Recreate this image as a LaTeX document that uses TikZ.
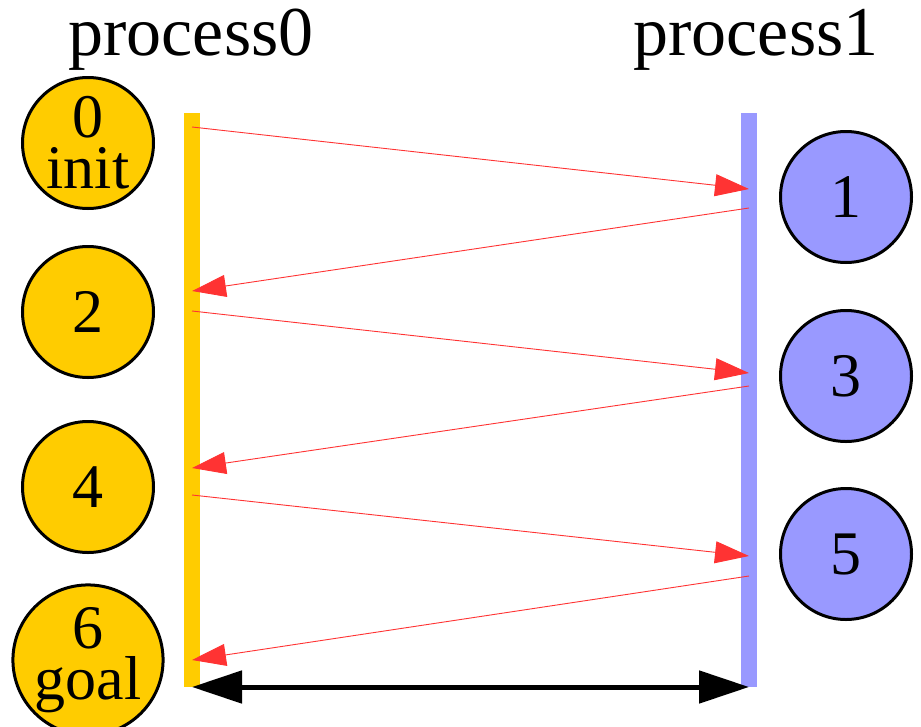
\documentclass[tikz,border=0pt]{standalone}
\usepackage{fontspec}
\setmainfont{Liberation Serif}
\usetikzlibrary{arrows.meta}

\definecolor{procgold}{HTML}{FFCC00}
\definecolor{procblue}{HTML}{9999FF}
\definecolor{msgred}{HTML}{FF3333}

\tikzset{
  state/.style={circle, draw=black, line width=3pt, minimum size=131pt, inner sep=0pt,
                align=center, font=\fontsize{62}{51}\selectfont},
  title/.style={font=\fontsize{70}{76}\selectfont},
  msg/.style={draw=msgred, line width=0.9pt, -{Triangle[length=34pt,width=22pt,fill=msgred]}},
}

\begin{document}
\begin{tikzpicture}[x=1pt,y=-1pt]
            \useasboundingbox (0,0) rectangle (921,726);

            \coordinate (P0top) at (192,113);
            \coordinate (P0bot) at (192,687);
            \coordinate (P1top) at (749,113);
            \coordinate (P1bot) at (749,687);

            \node[title] (t0) at (191,40) {process0};
            \node[title] (t1) at (756,40) {process1};

            \draw[procgold, line width=16pt] (P0top) -- (P0bot);
            \draw[procblue, line width=16pt] (P1top) -- (P1bot);

            \node[state, fill=procgold] (s0) at (88,143) {0\\init};
            \node[state, fill=procgold] (s2) at (88,312) {2};
            \node[state, fill=procgold] (s4) at (88,487) {4};
            \node[state, fill=procgold] (s6) at (88,660) {6\\goal};

            \node[state, fill=procblue] (s1) at (846,197) {1};
            \node[state, fill=procblue] (s3) at (846,376) {3};
            \node[state, fill=procblue] (s5) at (846,554) {5};

            % message end points on the two time lines
            \coordinate (a0) at (192,127);  \coordinate (b1) at (749,189);
            \coordinate (a1) at (749,208);  \coordinate (b2) at (192,291);
            \coordinate (a2) at (192,311);  \coordinate (b3) at (749,373);
            \coordinate (a3) at (749,386);  \coordinate (b4) at (192,468);
            \coordinate (a4) at (192,495);  \coordinate (b5) at (749,556);
            \coordinate (a5) at (749,576);  \coordinate (b6) at (192,660);

            \draw[msg] (a0) -- (b1);
            \draw[msg] (a1) -- (b2);
            \draw[msg] (a2) -- (b3);
            \draw[msg] (a3) -- (b4);
            \draw[msg] (a4) -- (b5);
            \draw[msg] (a5) -- (b6);

            \draw[line width=5pt, {Triangle[length=50pt,width=32pt]}-{Triangle[length=50pt,width=32pt]}] (P0bot) -- (P1bot);

        \end{tikzpicture}
\end{document}
